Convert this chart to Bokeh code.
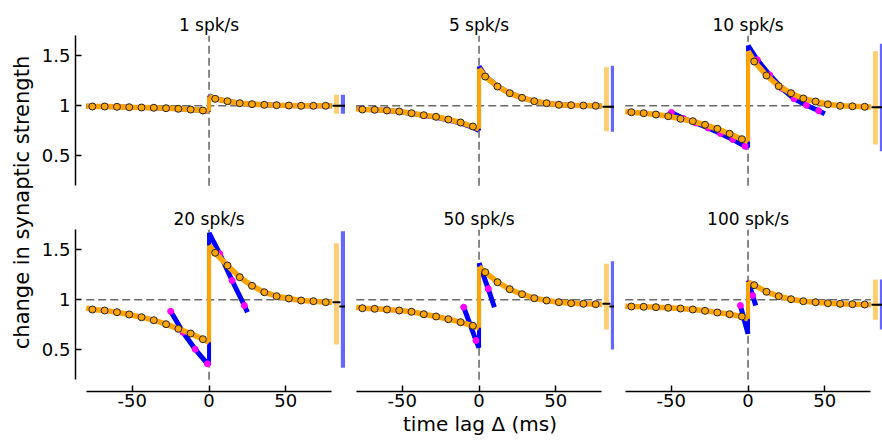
import math
from bokeh.plotting import figure
from bokeh.layouts import row, column
from bokeh.models import Range1d, FixedTicker, Label
from bokeh.embed import file_html
from bokeh.resources import INLINE

FONT = "DejaVu Sans"

# ---------------- data ----------------
rates = [1, 5, 10, 20, 50, 100]
panel_titles = [f"{r} spk/s" for r in rates]
y_label = "change in synaptic strength"
x_label = "time lag \u0394 (ms)"
x_ticks = [-50, 0, 50]
x_tick_labels = ["-50", "0", "50"]
y_ticks = [0.5, 1, 1.5]
y_tick_labels = ["0.5", "1", "1.5"]

# simulation points (circles), x positions in ms
x_sim_left = [-76, -68, -60, -52, -44, -36, -28, -20, -12, -4]
x_sim_right = [4, 12, 20, 28, 36, 44, 52, 60, 68, 76]
x_curve_start = -80
x_curve_end = 80

sim_left = [
    [0.993, 0.993, 0.990, 0.986, 0.983, 0.980, 0.976, 0.970, 0.963, 0.953],
    [0.963, 0.960, 0.953, 0.943, 0.926, 0.906, 0.890, 0.863, 0.833, 0.793],
    [0.936, 0.926, 0.913, 0.896, 0.870, 0.846, 0.810, 0.770, 0.720, 0.666],
    [0.903, 0.893, 0.876, 0.853, 0.826, 0.796, 0.756, 0.710, 0.663, 0.606],
    [0.916, 0.910, 0.903, 0.893, 0.880, 0.856, 0.833, 0.806, 0.776, 0.740],
    [0.933, 0.930, 0.926, 0.920, 0.913, 0.903, 0.890, 0.873, 0.856, 0.833],
]
sim_right = [
    [1.070, 1.046, 1.026, 1.016, 1.010, 1.006, 1.003, 1.000, 1.000, 1.000],
    [1.293, 1.193, 1.126, 1.080, 1.046, 1.026, 1.010, 1.006, 1.003, 1.000],
    [1.443, 1.303, 1.196, 1.126, 1.073, 1.043, 1.015, 1.000, 0.995, 0.990],
    [1.470, 1.343, 1.226, 1.140, 1.076, 1.036, 1.013, 0.993, 0.986, 0.976],
    [1.276, 1.176, 1.106, 1.056, 1.016, 0.993, 0.976, 0.966, 0.960, 0.956],
    [1.146, 1.080, 1.036, 1.006, 0.986, 0.976, 0.966, 0.960, 0.956, 0.953],
]
# orange theory curve: value at -80, just before 0, just after 0, at 80
curve_start = [0.995, 0.970, 0.943, 0.920, 0.926, 0.936]
curve_pre = [0.945, 0.770, 0.643, 0.576, 0.720, 0.810]
curve_post = [1.093, 1.370, 1.546, 1.543, 1.330, 1.180]
curve_end = [1.000, 0.995, 0.987, 0.975, 0.955, 0.950]

# blue approximation
blue_x_left = [
    [-80, -76, -68, -60, -52, -44, -36, -28, -20, -12, -4, 0],
    [-80, -76, -68, -60, -52, -44, -36, -28, -20, -12, -4, 0],
    [-50, -42, -34, -26, -18, -10, -2, 0],
    [-25, -17, -9, -1, 0],
    [-10, -2, 0],
    [-5, 0],
]
blue_y_left = [
    [0.995, 0.993, 0.993, 0.990, 0.986, 0.983, 0.980, 0.976, 0.970, 0.963, 0.953, 0.940],
    [0.975, 0.965, 0.960, 0.952, 0.941, 0.924, 0.903, 0.886, 0.858, 0.826, 0.785, 0.752],
    [0.932, 0.872, 0.828, 0.778, 0.723, 0.664, 0.595, 0.580],
    [0.885, 0.675, 0.505, 0.360, 0.345],
    [0.926, 0.593, 0.520],
    [0.943, 0.660],
]
blue_x_right = [
    [0, 4, 12, 20, 28, 36, 44, 52, 60, 68, 76, 80],
    [0, 4, 12, 20, 28, 36, 44, 52, 60, 68, 76, 80],
    [0, 6, 14, 22, 30, 38, 46, 50],
    [0, 7, 15, 23, 25],
    [0, 6, 10],
    [0, 3, 5],
]
blue_y_right = [
    [1.100, 1.070, 1.046, 1.026, 1.016, 1.010, 1.006, 1.003, 1.000, 1.000, 1.000, 1.000],
    [1.393, 1.300, 1.196, 1.127, 1.080, 1.046, 1.026, 1.010, 1.006, 1.003, 1.000, 0.995],
    [1.603, 1.460, 1.310, 1.175, 1.070, 1.005, 0.950, 0.920],
    [1.670, 1.460, 1.193, 0.943, 0.876],
    [1.366, 1.110, 0.926],
    [1.190, 1.043, 0.943],
]
magenta_x = [
    [], [],
    [-50, -42, -34, -26, -18, -10, -2, 6, 14, 22, 30, 38, 46],
    [-25, -17, -9, -1, 7, 15, 23],
    [-10, -2, 6],
    [-5, 3],
]
magenta_y = [
    [], [],
    [0.932, 0.872, 0.828, 0.778, 0.723, 0.664, 0.595, 1.460, 1.310, 1.175, 1.070, 1.005, 0.950],
    [0.885, 0.675, 0.505, 0.360, 1.460, 1.193, 0.943],
    [0.926, 0.593, 1.110],
    [0.943, 1.043],
]

# steady-state distributions (bars at right of each panel)
orange_bar_lo = [0.920, 0.746, 0.613, 0.553, 0.703, 0.800]
orange_bar_hi = [1.110, 1.386, 1.546, 1.566, 1.360, 1.203]
orange_bar_mean = [1.000, 0.990, 0.986, 0.976, 0.960, 0.950]
blue_bar_lo = [0.920, 0.740, 0.546, 0.320, 0.503, 0.703]
blue_bar_hi = [1.110, 1.400, 1.620, 1.686, 1.386, 1.203]
blue_bar_mean = [1.000, 0.990, 0.986, 0.933, 0.933, 0.950]
orange_bar_x = 83
blue_bar_x = 87.5

baseline = 1.0
y_spine = (0.2, 1.7)
x_spine = (-80, 80)
title_y = 1.805

# ---------------- layout ----------------
SCALE = 1.535          # px per ms
X0 = -87
col_frame_w = [270, 269, 268]
row_frame_h = [198, 193]
row_yr = [(0.073, 2.053), (0.083, 2.013)]
LABEL_W = 34
LEFT_AXIS = 41
BOTTOM_AXIS = 49


def make_panel(i):
    r, c = divmod(i, 3)
    fw, fh = col_frame_w[c], row_frame_h[r]
    left = LEFT_AXIS if c == 0 else 0
    bottom = BOTTOM_AXIS if r == 1 else 0
    p = figure(width=fw + left, height=fh + bottom,
               x_range=Range1d(X0, X0 + fw / SCALE),
               y_range=Range1d(*row_yr[r]),
               x_axis_location="below" if r == 1 else None,
               y_axis_location="left" if c == 0 else None,
               output_backend="svg", toolbar_location=None,
               min_border=0, min_border_left=left, min_border_bottom=bottom)
    p.outline_line_color = None
    p.grid.visible = False
    p.background_fill_color = "white"
    p.border_fill_color = "white"

    for ax in p.axis:
        ax.axis_line_width = 1.5
        ax.axis_line_color = "black"
        ax.major_tick_in = 6
        ax.major_tick_out = 0
        ax.major_tick_line_width = 1.5
        ax.major_tick_line_color = "black"
        ax.minor_tick_in = 0
        ax.minor_tick_out = 0
        ax.major_label_text_font = FONT
        ax.major_label_text_font_size = "18px"
        ax.major_label_text_color = "black"
    if c == 0:
        ya = p.yaxis[0]
        ya.ticker = FixedTicker(ticks=y_ticks)
        ya.major_label_overrides = dict(zip(y_ticks, y_tick_labels))
        ya.bounds = y_spine
        ya.major_label_standoff = 5
    if r == 1:
        xa = p.xaxis[0]
        xa.ticker = FixedTicker(ticks=x_ticks)
        xa.major_label_overrides = dict(zip(x_ticks, x_tick_labels))
        xa.bounds = x_spine
        xa.major_label_standoff = 2
        if c == 1:
            xa.axis_label = x_label
            xa.axis_label_text_font = FONT
            xa.axis_label_text_font_size = "20px"
            xa.axis_label_text_font_style = "normal"
            xa.axis_label_text_color = "black"
            xa.axis_label_standoff = 2

    dash_col = "#6b6b6b"
    p.segment(x0=[x_spine[0]], y0=[baseline], x1=[x_spine[1]], y1=[baseline],
              line_color=dash_col, line_width=1.6, line_dash="8 4")
    p.segment(x0=[0], y0=[y_spine[0]], x1=[0], y1=[y_spine[1]],
              line_color=dash_col, line_width=1.6, line_dash="8 4")

    # blue approximation
    p.line(blue_x_left[i], blue_y_left[i], line_color="blue", line_width=5)
    p.line(blue_x_right[i], blue_y_right[i], line_color="blue", line_width=5)
    p.segment(x0=[0], y0=[blue_y_left[i][-1]], x1=[0], y1=[blue_y_right[i][0]],
              line_color="blue", line_width=4)
    if magenta_x[i]:
        p.scatter(magenta_x[i], magenta_y[i], size=6, fill_color="magenta",
                  line_color="magenta")

    # orange theory curve
    xl = [x_curve_start] + x_sim_left + [0]
    yl = [curve_start[i]] + sim_left[i] + [curve_pre[i]]
    xr = [0] + x_sim_right + [x_curve_end]
    yr = [curve_post[i]] + sim_right[i] + [curve_end[i]]
    p.line(xl, yl, line_color="orange", line_width=5.5)
    p.line(xr, yr, line_color="orange", line_width=5.5)
    p.segment(x0=[0], y0=[curve_pre[i]], x1=[0], y1=[curve_post[i]],
              line_color="orange", line_width=4)

    # simulation circles
    p.scatter(x_sim_left + x_sim_right, sim_left[i] + sim_right[i], size=7,
              fill_color="orange", line_color="#222222", line_width=1)

    # steady-state bars
    p.segment(x0=[orange_bar_x], y0=[orange_bar_lo[i]], x1=[orange_bar_x], y1=[orange_bar_hi[i]],
              line_color="orange", line_alpha=0.55, line_width=5)
    p.segment(x0=[blue_bar_x], y0=[blue_bar_lo[i]], x1=[blue_bar_x], y1=[blue_bar_hi[i]],
              line_color="blue", line_alpha=0.6, line_width=5)
    p.scatter([orange_bar_x, blue_bar_x], [orange_bar_mean[i], blue_bar_mean[i]],
              marker="dash", size=8, line_color="black", line_width=2)

    p.add_layout(Label(x=0, y=title_y, text=panel_titles[i], text_align="center",
                       text_baseline="middle", text_font=FONT, text_font_size="17px",
                       text_color="black"))
    return p


panels = [make_panel(i) for i in range(6)]

total_h = row_frame_h[0] + row_frame_h[1] + BOTTOM_AXIS
lab = figure(width=LABEL_W, height=total_h, x_range=Range1d(0, 1), y_range=Range1d(0, 1),
             x_axis_location=None, y_axis_location=None,
             output_backend="svg", toolbar_location=None, min_border=0)
lab.outline_line_color = None
lab.grid.visible = False
lab.add_layout(Label(x=21, y=total_h - 202, x_units="screen", y_units="screen",
                     angle=math.pi / 2, text=y_label, text_align="center",
                     text_baseline="middle", text_font=FONT, text_font_size="21px",
                     text_color="black"))

layout = row(lab, column(row(*panels[:3]), row(*panels[3:])))

open("out.html", "w").write(file_html(layout, INLINE))
